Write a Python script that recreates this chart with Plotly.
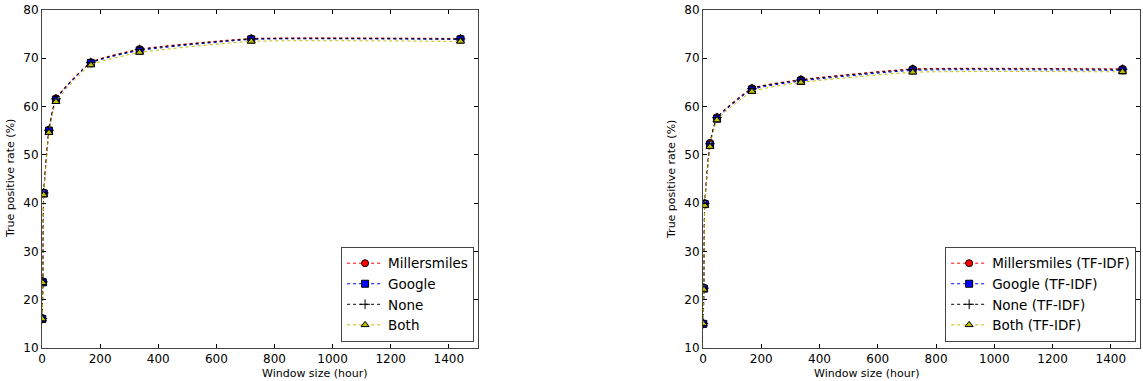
import plotly.graph_objects as go

hours = [1, 3, 6, 24, 48, 168, 336, 720, 1440]

left_millersmiles = [16.2, 23.8, 42.2, 55.2, 61.7, 69.2, 71.9, 74.1, 74.1]
left_google = [16.0, 23.6, 42.0, 55.0, 61.4, 69.0, 71.6, 73.9, 73.9]
left_none = [16.1, 23.7, 42.1, 55.1, 61.6, 69.1, 71.8, 74.0, 74.0]
left_both = [16.0, 23.5, 41.7, 54.6, 61.0, 68.6, 71.2, 73.5, 73.5]

right_millersmiles = [15.1, 22.5, 40.0, 52.5, 57.8, 63.8, 65.6, 67.8, 67.8]
right_google = [15.0, 22.3, 39.8, 52.1, 57.5, 63.5, 65.3, 67.5, 67.5]
right_none = [15.1, 22.4, 39.9, 52.3, 57.7, 63.7, 65.5, 67.7, 67.7]
right_both = [15.0, 22.1, 39.5, 51.7, 57.2, 63.1, 65.0, 67.1, 67.2]

names_left = ["Millersmiles", "Google", "None", "Both"]
names_right = [n + " (TF-IDF)" for n in names_left]

x_title = "Window size (hour)"
y_title = "True positive rate (%)"

styles = [
    dict(color="red", symbol="circle"),
    dict(color="blue", symbol="square"),
    dict(color="black", symbol="cross-thin"),
    dict(color="#bfbf00", symbol="triangle-up"),
]

fig = go.Figure()

def add_series(xs, ys, name, st, xa, ya, legend):
    if st["symbol"] == "cross-thin":
        marker = dict(symbol="cross-thin", size=7, color="black",
                      line=dict(color="black", width=1))
    else:
        marker = dict(symbol=st["symbol"], size=7, color=st["color"],
                      line=dict(color="black", width=1))
    fig.add_trace(go.Scatter(
        x=xs, y=ys, name=name, mode="lines+markers",
        line=dict(color=st["color"], dash="dot", width=1, shape="spline", smoothing=0.45),
        marker=marker, xaxis=xa, yaxis=ya, legend=legend,
    ))

for ys, nm, st in zip([left_millersmiles, left_google, left_none, left_both], names_left, styles):
    add_series(hours, ys, nm, st, "x", "y", "legend")
for ys, nm, st in zip([right_millersmiles, right_google, right_none, right_both], names_right, styles):
    add_series(hours, ys, nm, st, "x2", "y2", "legend2")

axis_common = dict(
    showgrid=False, zeroline=False, showline=True, linecolor="#444", linewidth=1,
    mirror="ticks", ticks="inside", ticklen=4, tickcolor="black", automargin=False,
    tickfont=dict(family="DejaVu Sans", size=12, color="black"),
)
xt = [0, 200, 400, 600, 800, 1000, 1200, 1400]
yt = [10, 20, 30, 40, 50, 60, 70, 80]

xd1 = [0, 0.397]
xd2 = [0.602, 1.0]

legend_common = dict(xanchor="right", yanchor="bottom", y=0.018,
                     bordercolor="#444", borderwidth=1, bgcolor="white",
                     font=dict(size=13.5), tracegroupgap=0, itemwidth=36)

fig.update_layout(
    width=1143, height=381,
    margin=dict(l=42, r=3, t=10, b=33),
    plot_bgcolor="white", paper_bgcolor="white",
    font=dict(family="DejaVu Sans", color="black"),
    xaxis=dict(domain=xd1, range=[0, 1500], tickvals=xt, **axis_common),
    yaxis=dict(range=[10, 80], tickvals=yt, **axis_common),
    xaxis2=dict(domain=xd2, range=[0, 1500], tickvals=xt, anchor="y2", **axis_common),
    yaxis2=dict(range=[10, 80], tickvals=yt, anchor="x2", **axis_common),
    legend=dict(x=0.3935, **legend_common),
    legend2=dict(x=0.9965, **legend_common),
    showlegend=True,
)

for xd in (xd1, xd2):
    fig.add_annotation(text=x_title, xref="paper", yref="paper",
                       x=(xd[0] + xd[1]) / 2, y=0, yshift=-17, yanchor="top",
                       showarrow=False, font=dict(size=11))
    fig.add_annotation(text=y_title, xref="paper", yref="paper", textangle=-90,
                       x=xd[0], xshift=-32, y=0.5, xanchor="center",
                       showarrow=False, font=dict(size=11))

fig.write_html("out.html", config={"displayModeBar": False},
               post_script="document.body.style.margin='0';document.body.style.overflow='hidden';")
